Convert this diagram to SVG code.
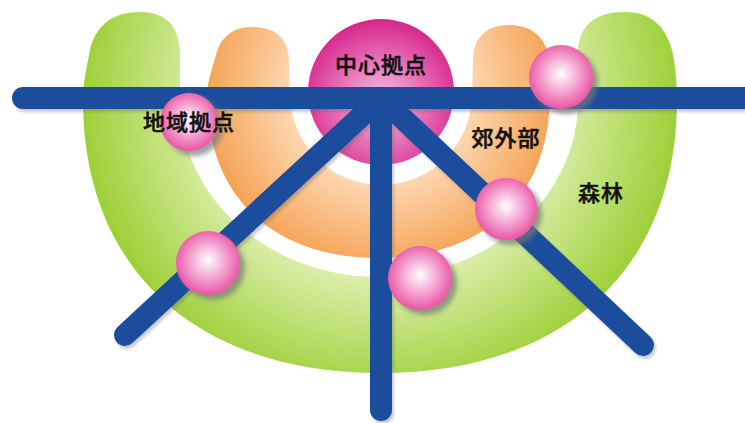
<svg xmlns="http://www.w3.org/2000/svg" width="745" height="423" viewBox="0 0 745 423">
<defs>
<radialGradient id="gGreen" gradientUnits="userSpaceOnUse" cx="380" cy="100" r="300">
<stop offset="0.6" stop-color="#dbeeaa"/>
<stop offset="1" stop-color="#9ccf36"/>
</radialGradient>
<radialGradient id="gOrange" gradientUnits="userSpaceOnUse" cx="380" cy="94" r="175">
<stop offset="0.5" stop-color="#fdd9b4"/>
<stop offset="1" stop-color="#f5a356"/>
</radialGradient>
<radialGradient id="gCenter" cx="0.5" cy="0.57" r="0.58">
<stop offset="0" stop-color="#f7c2e2"/>
<stop offset="1" stop-color="#d6238b"/>
</radialGradient>
<radialGradient id="gBall" cx="0.5" cy="0.48" r="0.55" fx="0.5" fy="0.45">
<stop offset="0" stop-color="#ffffff"/>
<stop offset="0.3" stop-color="#f9c8e5"/>
<stop offset="1" stop-color="#e94c9f"/>
</radialGradient>
<filter id="shadow" x="-30%" y="-30%" width="170%" height="170%">
<feGaussianBlur in="SourceAlpha" stdDeviation="2.5"/>
<feOffset dx="5" dy="5" result="b"/>
<feFlood flood-color="#777" flood-opacity="0.7"/>
<feComposite in2="b" operator="in"/>
<feMerge><feMergeNode/><feMergeNode in="SourceGraphic"/></feMerge>
</filter>
<filter id="lineShadow" x="-10%" y="-10%" width="120%" height="120%">
<feGaussianBlur in="SourceAlpha" stdDeviation="1.5"/>
<feOffset dx="2" dy="3" result="b"/>
<feFlood flood-color="#666" flood-opacity="0.35"/>
<feComposite in2="b" operator="in"/>
<feMerge><feMergeNode/><feMergeNode in="SourceGraphic"/></feMerge>
</filter>
</defs>
<style>
.road{stroke:#1d4d9c;stroke-width:22;stroke-linecap:round;fill:none}
.ball{fill:url(#gBall);filter:url(#shadow)}
.lbl{font-family:"Noto Sans CJK JP","Noto Sans CJK SC",sans-serif;font-size:22px;font-weight:500;fill:#111;stroke:#111;stroke-width:0.5px;text-anchor:middle;letter-spacing:1px}
</style>
<rect width="745" height="423" fill="#ffffff"/>
<g id="forest">
<path fill="url(#gGreen)" d="M83,100 C83,269 196,373 380,373 C564,373 677,269 677,100 C677,80 675,65 672,50 C665,25 650,12 625,12 C595,12 580,25 578,50 L578,100 C578,198 489,277 379,277 C269,277 180,198 180,100 L180,55 C180,25 165,12 140,12 C110,12 95,28 90,50 C86,70 83,85 83,100 Z"/>
</g>
<g id="suburb">
<path fill="url(#gOrange)" d="M207,94 C207,196 272,258 378.5,258 C485,258 550,196 550,94 L549,60 C546,35 530,25 508,25 C485,25 473,40 473,60 L472,94 A91,91 0 0 1 290,94 L289,60 C288,38 275,27 252,27 C230,27 220,40 216,55 C211,72 207,85 207,94 Z"/>
</g>
<g id="center-hub">
<circle cx="381" cy="92" r="73" fill="url(#gCenter)"/>
</g>
<g id="connectors" filter="url(#lineShadow)">
<line class="road" x1="23" y1="98" x2="770" y2="98"/>
<line class="road" x1="381" y1="98" x2="381" y2="410"/>
<line class="road" x1="381" y1="98" x2="125" y2="335"/>
<line class="road" x1="381" y1="98" x2="643" y2="345"/>
</g>
<g id="node-regional">
<circle class="ball" cx="189" cy="122" r="29"/>
</g>
<g id="node-upper-right">
<circle class="ball" cx="561" cy="77" r="32"/>
</g>
<g id="node-right-diag">
<circle class="ball" cx="506" cy="209" r="31"/>
</g>
<g id="node-lower-middle">
<circle class="ball" cx="420" cy="278" r="32"/>
</g>
<g id="node-left-diag">
<circle class="ball" cx="208" cy="263" r="32"/>
</g>
<g id="labels">
<text class="lbl" x="381" y="73">中心拠点</text>
<text class="lbl" x="189" y="130">地域拠点</text>
<text class="lbl" x="506" y="146">郊外部</text>
<text class="lbl" x="601" y="201">森林</text>
</g>
</svg>
